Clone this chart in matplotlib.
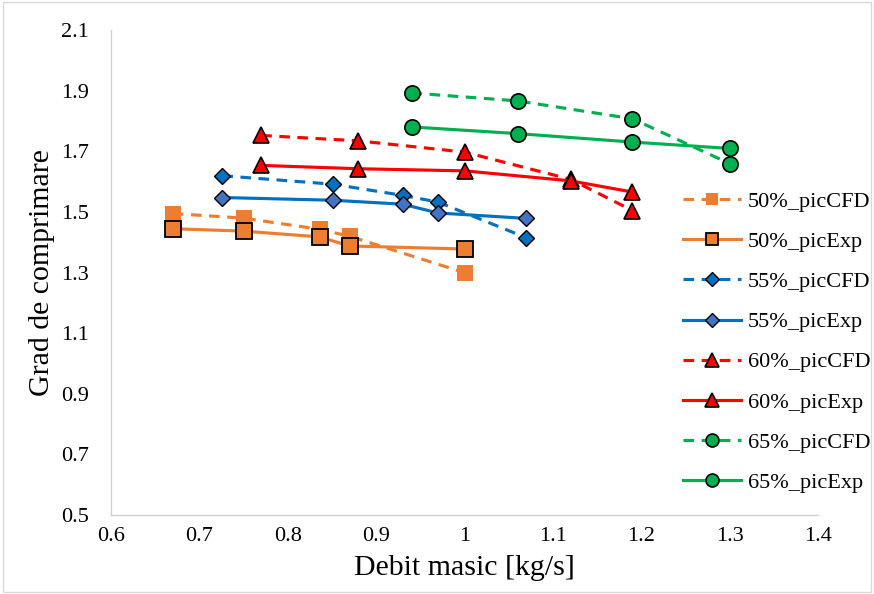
import matplotlib.pyplot as plt
from matplotlib.patches import Rectangle

plt.rcParams['font.family'] = ['Liberation Serif', 'DejaVu Serif']

# 50% speed
x50_cfd = [0.67, 0.75, 0.836, 0.87, 1.0]
y50_cfd = [1.495, 1.48, 1.443, 1.42, 1.30]
x50_exp = [0.67, 0.75, 0.836, 0.87, 1.0]
y50_exp = [1.445, 1.437, 1.418, 1.388, 1.378]

# 55% speed
x55_cfd = [0.726, 0.851, 0.93, 0.97, 1.07]
y55_cfd = [1.62, 1.592, 1.555, 1.533, 1.415]
x55_exp = [0.726, 0.851, 0.93, 0.97, 1.07]
y55_exp = [1.548, 1.539, 1.526, 1.497, 1.479]

# 60% speed
x60_cfd = [0.77, 0.88, 1.0, 1.12, 1.19]
y60_cfd = [1.753, 1.735, 1.698, 1.608, 1.505]
x60_exp = [0.77, 0.88, 1.0, 1.12, 1.19]
y60_exp = [1.654, 1.643, 1.636, 1.603, 1.566]

# 65% speed
x65_cfd = [0.94, 1.06, 1.19, 1.30]
y65_cfd = [1.893, 1.867, 1.808, 1.66]
x65_exp = [0.94, 1.06, 1.19, 1.30]
y65_exp = [1.781, 1.759, 1.731, 1.71]

orange = '#ED7D31'
blue = '#0070C0'
blue_fill = '#4472C4'
red = '#FF0000'
green = '#00B050'

fig = plt.figure(figsize=(8.74, 5.94), dpi=100)
ax = fig.add_axes([0.127, 0.133, 0.809, 0.816])

dash = (3.4, 2.4)
lw = 2.25

ax.plot(x50_cfd, y50_cfd, color=orange, lw=lw, dashes=dash, marker='s', ms=11,
        mfc=orange, mec=orange, mew=0, label='50%_picCFD')
ax.plot(x50_exp, y50_exp, color=orange, lw=lw, marker='s', ms=11,
        mfc=orange, mec='black', mew=1.3, label='50%_picExp')
ax.plot(x55_cfd, y55_cfd, color=blue, lw=lw, dashes=dash, marker='D', ms=8.5,
        mfc=blue, mec='black', mew=1.0, label='55%_picCFD')
ax.plot(x55_exp, y55_exp, color=blue, lw=lw, marker='D', ms=8.5,
        mfc=blue_fill, mec='black', mew=1.0, label='55%_picExp')
ax.plot(x60_cfd, y60_cfd, color=red, lw=lw, dashes=dash, marker='^', ms=12,
        mfc=red, mec='black', mew=1.2, label='60%_picCFD')
ax.plot(x60_exp, y60_exp, color=red, lw=lw, marker='^', ms=12,
        mfc=red, mec='black', mew=1.2, label='60%_picExp')
ax.plot(x65_cfd, y65_cfd, color=green, lw=lw, dashes=dash, marker='o', ms=11,
        mfc=green, mec='black', mew=1.2, label='65%_picCFD')
ax.plot(x65_exp, y65_exp, color=green, lw=lw, marker='o', ms=11,
        mfc=green, mec='black', mew=1.2, label='65%_picExp')

ax.set_xlim(0.6, 1.4)
ax.set_ylim(0.5, 2.1)
ax.set_xticks([0.6, 0.7, 0.8, 0.9, 1.0, 1.1, 1.2, 1.3, 1.4])
ax.set_xticklabels(['0.6', '0.7', '0.8', '0.9', '1', '1.1', '1.2', '1.3', '1.4'])
ax.set_yticks([0.5, 0.7, 0.9, 1.1, 1.3, 1.5, 1.7, 1.9, 2.1])
ax.set_yticklabels(['0.5', '0.7', '0.9', '1.1', '1.3', '1.5', '1.7', '1.9', '2.1'])
ax.tick_params(length=0, labelsize=16)
ax.tick_params(axis='x', pad=9)
ax.tick_params(axis='y', pad=16)

for side in ['top', 'right']:
    ax.spines[side].set_visible(False)
for side in ['left', 'bottom']:
    ax.spines[side].set_color('#D0D0D0')
    ax.spines[side].set_linewidth(1.0)

ax.set_xlabel('Debit masic [kg/s]', fontsize=21.5, labelpad=6)
ax.set_ylabel('Grad de comprimare', fontsize=21.5, labelpad=4)

leg = ax.legend(loc='center left', bbox_to_anchor=(0.759, 0.424), bbox_transform=fig.transFigure,
                frameon=False, fontsize=16, labelspacing=0.88, handlelength=2.6,
                handletextpad=0.3, markerscale=0.85)

# light chart-area border
fig.patches.append(Rectangle((0.003, 0.003), 0.994, 0.994, transform=fig.transFigure,
                             fill=False, edgecolor='#D9D9D9', lw=1))

fig.savefig('out.png', dpi=100)
